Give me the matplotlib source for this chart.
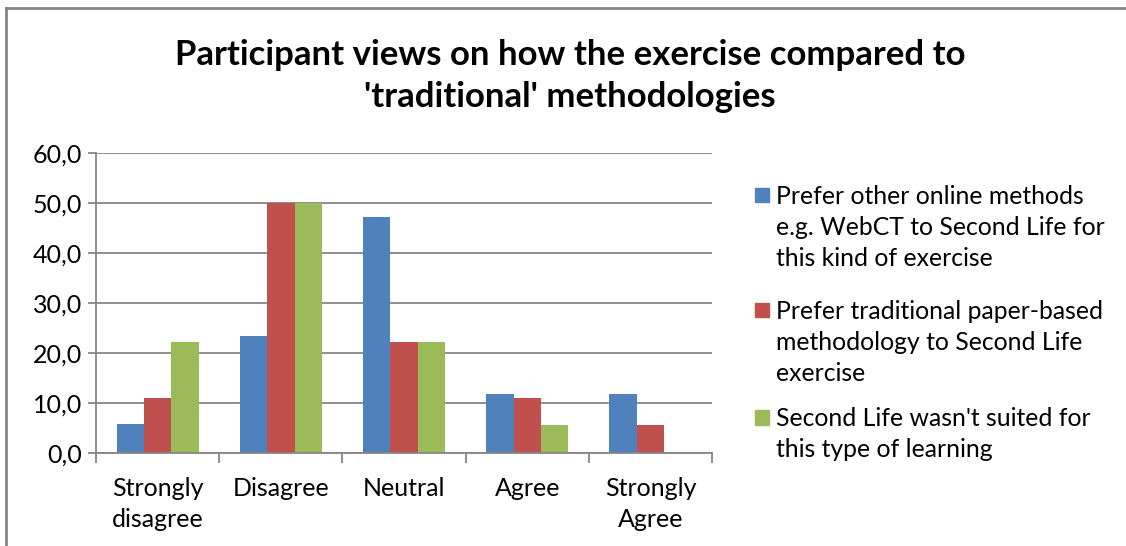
import matplotlib.pyplot as plt
import numpy as np
from matplotlib.patches import Rectangle
from matplotlib.lines import Line2D

plt.rcParams['font.family'] = ['Lato', 'DejaVu Sans']

categories = ["Strongly\ndisagree", "Disagree", "Neutral", "Agree", "Strongly\nAgree"]
online = [5.9, 23.5, 47.1, 11.8, 11.8]
paper = [11.1, 50.0, 22.2, 11.1, 5.6]
not_suited = [22.2, 50.0, 22.2, 5.6, 0.0]

labels = [
    "Prefer other online methods\ne.g. WebCT to Second Life for\nthis kind of exercise",
    "Prefer traditional paper-based\nmethodology to Second Life\nexercise",
    "Second Life wasn't suited for\nthis type of learning",
]
colors = ["#4F81BD", "#C0504D", "#9BBB59"]
grey = "#868686"

fig = plt.figure(figsize=(11.26, 5.46), dpi=100)
ax = fig.add_axes([0.0853, 0.1703, 0.5471, 0.5495])

x = np.arange(len(categories))
w = 1 / 4.5
for i, (vals, c) in enumerate(zip([online, paper, not_suited], colors)):
    ax.bar(x + (i - 1) * w, vals, width=w, color=c, linewidth=0)

ax.set_xlim(-0.5, len(categories) - 0.5)
ax.set_ylim(0, 60)
ax.set_yticks(np.arange(0, 61, 10))
ax.set_yticklabels([f"{v:.1f}".replace(".", ",") for v in range(0, 61, 10)])
ax.yaxis.grid(True, color=grey, linewidth=1.3)
ax.set_axisbelow(True)

# category labels sit between boundary ticks
ax.set_xticks(np.arange(-0.5, len(categories)), minor=False)
ax.set_xticklabels([])
ax.set_xticks(x, minor=True)
ax.set_xticklabels(categories, minor=True, fontsize=18, linespacing=1.42, va="top")
ax.tick_params(axis="x", which="minor", length=0, pad=17)
ax.tick_params(axis="x", which="major", length=7, width=1.3, color=grey)
ax.tick_params(axis="y", length=6, width=1.3, color=grey, labelsize=18, pad=4)

for s in ["top", "right"]:
    ax.spines[s].set_visible(False)
for s in ["left", "bottom"]:
    ax.spines[s].set_color(grey)
    ax.spines[s].set_linewidth(1.3)

fig.text(0.506, 0.861, "Participant views on how the exercise compared to\n'traditional' methodologies",
         ha="center", va="center", fontsize=25, fontweight="bold", linespacing=1.36)

# legend, square aligned with the first line of each entry
tops = [0.643, 0.432, 0.236]
for lab, c, ty in zip(labels, colors, tops):
    fig.patches.append(Rectangle((0.6705, ty - 0.0135), 0.0125, 0.026, color=c,
                                 transform=fig.transFigure, figure=fig))
    fig.text(0.6895, ty + 0.0185, lab, ha="left", va="top", fontsize=17.8, linespacing=1.43)

# chart frame, left and top edges
fig.lines.append(Line2D([0.0055, 0.0055], [0, 0.985], color=grey, linewidth=2,
                        transform=fig.transFigure))
fig.lines.append(Line2D([0.0055, 1.0], [0.985, 0.985], color=grey, linewidth=2,
                        transform=fig.transFigure))

fig.savefig("out.png", dpi=100)
